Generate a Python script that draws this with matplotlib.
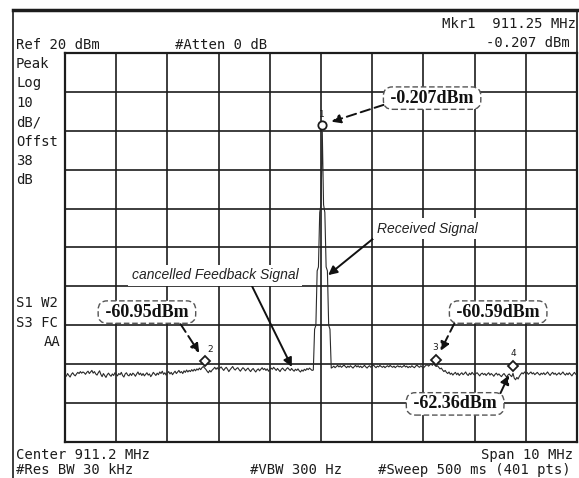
import numpy as np
import matplotlib.pyplot as plt
from matplotlib.transforms import offset_copy
from matplotlib.lines import Line2D

# sweep settings
start_mhz = 906.2
stop_mhz = 916.2
ref_dbm = 20
bottom_dbm = -80

# 401 point trace (dBm)
trace_dbm = [
    -62.8, -63.1, -62.4, -62.9, -63.3, -62.6, -62.2, -62.7, -63.0, -62.5, -62.1, -62.4, -61.9, -62.3, -62.0, -62.2, -62.6, -62.1, -61.8, -62.4,
    -62.0, -61.6, -62.3, -61.9, -62.5, -62.8, -62.2, -61.7, -62.6, -63.2, -62.4, -62.9, -63.4, -62.7, -62.3, -62.8, -63.1, -62.5, -62.9, -62.2,
    -62.6, -63.0, -62.4, -62.7, -62.1, -62.9, -63.3, -62.5, -62.2, -62.8, -63.0, -62.4, -62.9, -62.3, -62.6, -63.1, -62.5, -62.0, -62.7, -62.3,
    -62.9, -62.4, -63.0, -62.6, -62.2, -62.8, -62.5, -63.2, -62.7, -62.1, -62.5, -62.9, -62.3, -62.7, -62.0, -62.4, -61.8, -62.6, -62.2, -62.8,
    -62.3, -61.9, -62.5, -62.1, -62.7, -62.2, -61.8, -62.4, -62.0, -61.6, -62.2, -61.9, -62.4, -61.7, -62.1, -61.5, -62.0, -61.6, -61.9, -61.4,
    -61.8, -61.3, -61.7, -61.2, -61.5, -61.0, -61.4, -60.9, -60.6, -60.95, -61.3, -61.8, -62.2, -61.6, -62.0, -61.5, -61.2, -60.8, -61.3, -60.9,
    -61.4, -61.0, -60.7, -61.2, -61.6, -61.1, -60.8, -61.3, -61.9, -61.4, -61.0, -60.6, -61.2, -61.5, -61.1, -60.9, -61.4, -61.8, -61.3, -60.9,
    -61.2, -61.7, -61.3, -61.0, -61.5, -61.9, -61.4, -61.1, -61.6, -62.0, -61.5, -61.2, -61.7, -61.3, -60.9, -61.4, -61.1, -61.6, -61.2, -61.8,
    -61.4, -61.0, -61.3, -60.8, -61.2, -61.6, -61.1, -61.5, -61.9, -61.3, -61.0, -61.4, -61.7, -61.2, -60.9, -61.3, -61.6, -61.1, -61.5, -61.8,
    -61.3, -61.6, -61.2, -61.7, -62.0, -61.5, -61.8, -61.3, -61.6, -61.1, -61.4, -61.0, -61.3, -61.6,
    # carrier
    -61.5, -51.0, -50.0, -36.0, -35.0, -21.0, -19.0, -0.207, -19.0, -21.0, -35.0, -36.0, -50.0, -51.0, -61.0,
    -60.8, -60.5, -60.9, -60.6, -60.3, -60.7, -60.4, -60.8, -60.5, -60.2, -60.6, -60.9, -60.5, -60.8, -60.4, -60.7, -61.0, -60.6, -60.3, -60.7,
    -60.4, -60.8, -60.5, -60.9, -60.6, -60.3, -60.7, -61.0, -60.6, -60.4, -60.8, -60.5, -60.2, -60.6, -60.9, -60.5, -60.7, -60.3, -60.6, -60.8,
    -60.5, -60.9, -60.6, -60.4, -60.7, -60.3, -60.6, -60.8, -60.5, -60.9, -60.6, -60.4, -60.7, -60.5, -60.8, -60.6, -60.3, -60.7, -60.5, -60.9,
    -60.6, -60.8, -60.4, -60.7, -60.9, -60.5, -60.2, -60.6, -60.8, -60.4, -60.7, -61.0, -60.6, -60.3, -60.1, -60.5, -60.2, -59.9, -60.3, -59.8,
    -60.3, -60.59, -60.4, -60.8, -61.2, -61.0, -61.5, -61.9, -61.6, -62.1, -62.4, -62.0, -62.6, -62.3, -62.8, -62.4, -62.1, -62.7, -62.3, -62.9,
    -62.5, -62.2, -62.7, -62.4, -62.0, -62.6, -62.9, -62.3, -62.7, -62.1, -62.5, -62.8, -62.4, -62.2, -62.6, -63.0, -62.5, -62.3, -62.7, -62.4,
    -62.9, -62.5, -62.2, -62.8, -62.4, -62.7, -63.1, -62.6, -62.3, -62.8, -62.5, -62.9, -63.2, -62.7, -62.4, -62.9, -63.3, -62.8, -62.5, -62.9,
    -63.2, -62.36, -63.6, -64.0, -63.4, -63.8, -63.1, -62.6, -62.2, -62.5, -62.0, -62.4, -62.1, -62.6, -62.3, -62.0, -62.5, -62.2, -62.7, -62.4,
    -62.1, -62.5, -62.8, -62.3, -62.6, -62.2, -62.7, -62.4, -62.0, -62.5, -62.9, -62.4, -62.1, -62.6, -62.3, -62.8, -62.5, -62.2, -62.7, -62.4,
    -62.0, -62.5, -62.8, -62.3, -62.7, -62.2, -62.6, -63.0, -62.5, -62.1, -62.6, -62.3,
]

marker_names = ['1', '2', '3', '4']
marker_idx = [201, 109, 290, 350]
marker_text = ['-0.207dBm', '-60.95dBm', '-60.59dBm', '-62.36dBm']

freq = np.linspace(start_mhz, stop_mhz, len(trace_dbm))
trace = np.array(trace_dbm)

W, H = 579, 478
fig = plt.figure(figsize=(W / 100, H / 100), dpi=100)
ax = fig.add_axes([65 / W, 1 - 442 / H, 512 / W, 389 / H])

ink = '#1c1c1c'
ax.plot(freq, trace, color='#2a2a2a', lw=0.8, zorder=3)
ax.set_xlim(start_mhz, stop_mhz)
ax.set_ylim(bottom_dbm, ref_dbm)
ax.set_xticks(np.linspace(start_mhz, stop_mhz, 11))
ax.set_yticks(np.arange(bottom_dbm, ref_dbm + 1, 10))
ax.grid(True, color=ink, lw=1.2)
ax.tick_params(length=0, labelbottom=False, labelleft=False)
for s in ax.spines.values():
    s.set_linewidth(1.6)
    s.set_color(ink)

# markers sit a little above the trace point
mk = offset_copy(ax.transData, fig=fig, x=0, y=5, units='points')
for n, i in zip(marker_names, marker_idx):
    ax.plot(freq[i], trace[i], 'o' if n == '1' else 'D', ms=6 if n == '1' else 5.5,
            mfc='white', mec=ink, mew=1.3, transform=mk, zorder=5)

num_off = {'1': (0, 12), '2': (4, 13.5), '3': (-1, 14), '4': (0, 14.5)}
for n, i in zip(marker_names, marker_idx):
    ax.annotate(n, xy=(freq[i], trace[i]), xytext=num_off[n], textcoords='offset points',
                ha='center', va='center', fontsize=6.5, color=ink, zorder=6)

# dashed call-out boxes
box_pos = [(913.37, 8.4), (907.8, -46.6), (914.66, -46.6), (913.82, -70.2)]
box_rel = [(0.0, 0.15), (0.84, 0.0), (0.04, 0.0), (0.98, 1.0)]
for txt, i, pos, rel in zip(marker_text, marker_idx, box_pos, box_rel):
    ax.annotate(' ' + txt + ' ', xy=(freq[i], trace[i]), xycoords=mk, xytext=pos, textcoords='data',
                ha='center', va='center', fontsize=13, fontweight='bold', family='Liberation Serif',
                color='#111111', zorder=7,
                bbox=dict(boxstyle='round,pad=0.15,rounding_size=0.5', fc='white', ec='#555555',
                          ls=(0, (4, 2)), lw=1.0),
                arrowprops=dict(arrowstyle='-|>', color='#111111', lw=1.4, ls=(0, (5, 2.5)),
                                mutation_scale=13, shrinkA=0, shrinkB=7, relpos=rel))

ax.annotate('Received Signal', xy=(911.34, -37.1), xytext=(913.27, -25.2),
            ha='center', va='center', fontsize=10, style='italic', family='Liberation Sans',
            color='#222222', zorder=7,
            bbox=dict(boxstyle='square,pad=0.25', fc='white', ec='none'),
            arrowprops=dict(arrowstyle='-|>', color='#111111', lw=1.4, mutation_scale=13,
                            shrinkA=0, shrinkB=0, relpos=(0.0, 0.0)))
ax.annotate('cancelled Feedback Signal', xy=(910.63, -60.7), xytext=(909.13, -37.1),
            ha='center', va='center', fontsize=10, style='italic', family='Liberation Sans',
            color='#222222', zorder=7,
            bbox=dict(boxstyle='square,pad=0.25', fc='white', ec='none'),
            arrowprops=dict(arrowstyle='-|>', color='#111111', lw=1.4, mutation_scale=13,
                            shrinkA=0, shrinkB=0, relpos=(0.71, 0.0)))

# screen text around the graticule
def scr(x, y, s, ha='left'):
    fig.text(x / W, 1 - y / H, s, ha=ha, va='baseline', fontsize=10,
             family='DejaVu Sans Mono', color=ink)

scr(16, 49, 'Ref 20 dBm')
scr(175, 49, '#Atten 0 dB')
scr(576, 28, 'Mkr1  911.25 MHz', ha='right')
scr(570, 47, '-0.207 dBm', ha='right')
for k, s in enumerate(['Peak', 'Log', '10', 'dB/', 'Offst', '38', 'dB']):
    scr(16, 68 + 19.4 * k, s)
scr(16, 307, 'S1 W2')
scr(16, 327, 'S3 FC')
scr(61, 346, 'AA', ha='right')
scr(16, 459, 'Center 911.2 MHz')
scr(573, 459, 'Span 10 MHz', ha='right')
scr(16, 474, '#Res BW 30 kHz')
scr(250, 474, '#VBW 300 Hz')
scr(571, 474, '#Sweep 500 ms (401 pts)', ha='right')

# screen frame
fig.add_artist(Line2D([13 / W, 13 / W], [0, 1 - 10 / H], color=ink, lw=1.2))
fig.add_artist(Line2D([13 / W, 1], [1 - 10 / H, 1 - 10 / H], color=ink, lw=2.5))
fig.add_artist(Line2D([577 / W, 577 / W], [1 - 10 / H, 1 - 53 / H], color=ink, lw=1.2))

fig.savefig('out.png', dpi=100)
